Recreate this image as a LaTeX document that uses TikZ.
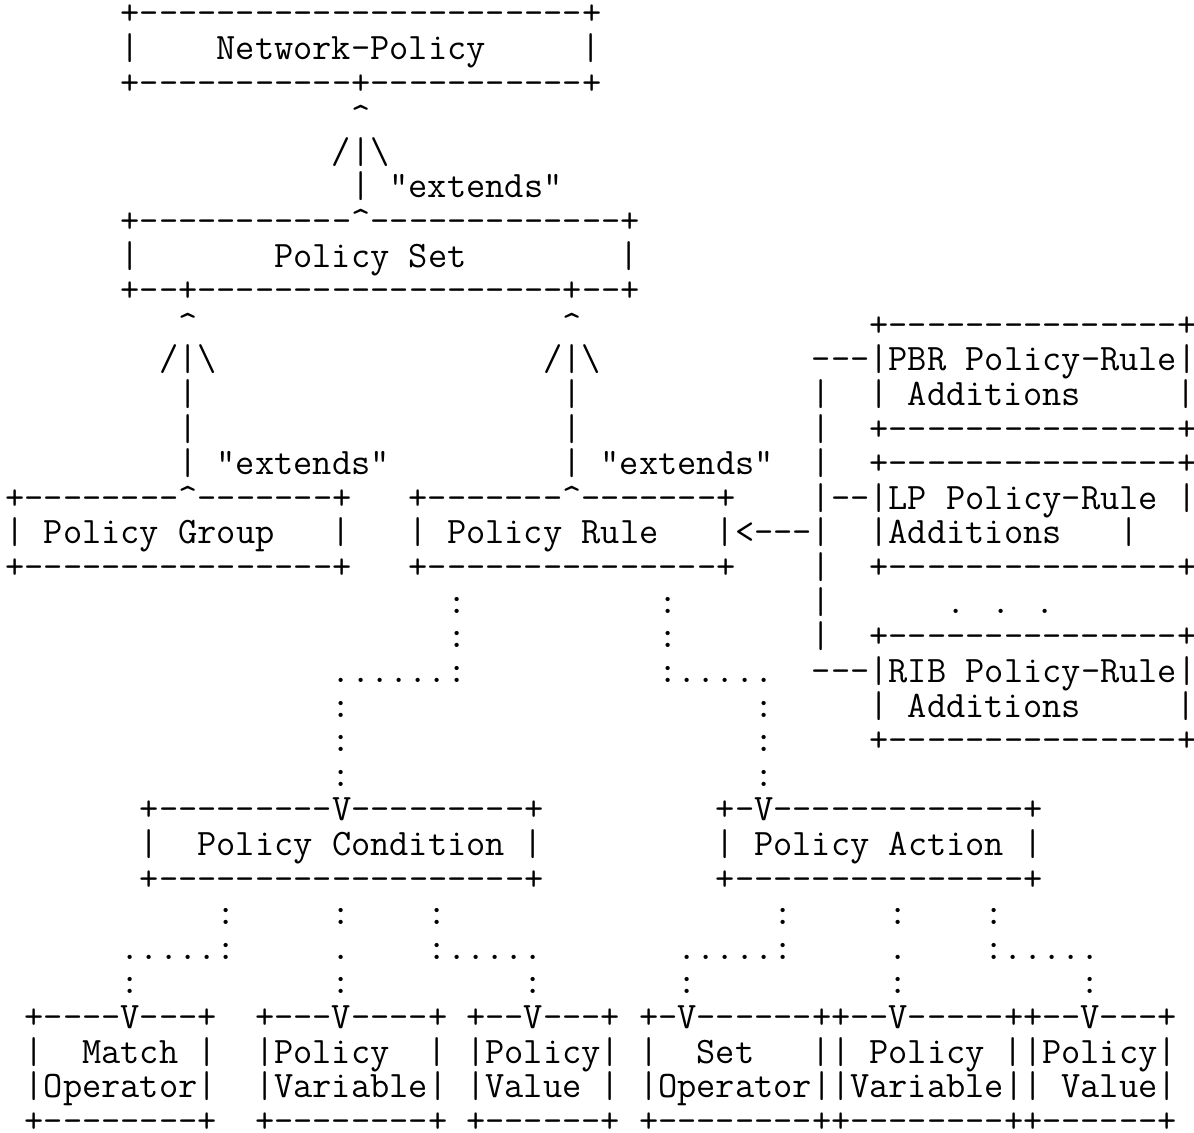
\documentclass[tikz,border=0pt]{standalone}
\usepackage{fontspec}
\tikzset{
  ascii/.style={anchor=base west, inner sep=0pt, outer sep=0pt,
    font=\ttfamily\fontsize{18.67pt}{20pt}\selectfont, text=black}
}
% one run of characters, placed on the character grid (column, row)
\newcommand\putseg[4]{\node[ascii] (#1) at ({5.4+19.2*(#2)},{25+34.6*((#3)-1)}) {#4};}
\newcommand\up{\textasciicircum}
\newcommand\bs{\textbackslash}
\begin{document}
\begin{tikzpicture}[x=0.5pt,y=-0.5pt]
\useasboundingbox (0,0) rectangle (1194,1133);
% Network-Policy
\putseg{nptop}{6}{1}{+-----------------------+}
\putseg{npl}{6}{2}{|}
\putseg{nptext}{11}{2}{Network-Policy}
\putseg{npr}{30}{2}{|}
\putseg{npbot}{6}{3}{+-----------+-----------+}
\putseg{ar1}{18}{4}{\up}
\putseg{ah1}{17}{5}{/|\bs}
\putseg{ex1}{18}{6}{| "extends"}
% Policy Set
\putseg{pstop}{6}{7}{+-----------\up-------------+}
\putseg{psl}{6}{8}{|}
\putseg{pstext}{14}{8}{Policy Set}
\putseg{psr}{32}{8}{|}
\putseg{psbot}{6}{9}{+--+-------------------+--+}
\putseg{ar2}{9}{10}{\up}
\putseg{ar3}{29}{10}{\up}
\putseg{pbrtop}{45}{10}{+---------------+}
\putseg{ah2}{8}{11}{/|\bs}
\putseg{ah3}{28}{11}{/|\bs}
\putseg{pbrlink}{42}{11}{---|PBR Policy-Rule|}
\putseg{v2a}{9}{12}{|}
\putseg{v3a}{29}{12}{|}
\putseg{bus1}{42}{12}{|}
\putseg{pbrl}{45}{12}{|}
\putseg{pbrtext}{47}{12}{Additions}
\putseg{pbrr}{61}{12}{|}
\putseg{v2b}{9}{13}{|}
\putseg{v3b}{29}{13}{|}
\putseg{bus2}{42}{13}{|}
\putseg{pbrbot}{45}{13}{+---------------+}
\putseg{ex2}{9}{14}{| "extends"}
\putseg{ex3}{29}{14}{| "extends"}
\putseg{bus3}{42}{14}{|}
\putseg{lptop}{45}{14}{+---------------+}
% Policy Group / Policy Rule / LP additions
\putseg{pgtop}{0}{15}{+--------\up-------+}
\putseg{prtop}{21}{15}{+-------\up-------+}
\putseg{lplink}{42}{15}{|--|LP Policy-Rule |}
\putseg{pgl}{0}{16}{|}
\putseg{pgtext}{2}{16}{Policy Group}
\putseg{pgr}{17}{16}{|}
\putseg{prl}{21}{16}{|}
\putseg{prtext}{23}{16}{Policy Rule}
\putseg{prlink}{37}{16}{|<---|}
\putseg{lpl}{45}{16}{|Additions}
\putseg{lpr}{58}{16}{|}
\putseg{pgbot}{0}{17}{+----------------+}
\putseg{prbot}{21}{17}{+---------------+}
\putseg{bus4}{42}{17}{|}
\putseg{lpbot}{45}{17}{+---------------+}
\putseg{d1a}{23}{18}{:}
\putseg{d2a}{34}{18}{:}
\putseg{bus5}{42}{18}{|}
\putseg{more}{49}{18}{. . .}
\putseg{d1b}{23}{19}{:}
\putseg{d2b}{34}{19}{:}
\putseg{bus6}{42}{19}{|}
\putseg{ribtop}{45}{19}{+---------------+}
\putseg{d1c}{17}{20}{......:}
\putseg{d2c}{34}{20}{:.....}
\putseg{riblink}{42}{20}{---|RIB Policy-Rule|}
\putseg{d1d}{17}{21}{:}
\putseg{d2d}{39}{21}{:}
\putseg{ribl}{45}{21}{|}
\putseg{ribtext}{47}{21}{Additions}
\putseg{ribr}{61}{21}{|}
\putseg{d1e}{17}{22}{:}
\putseg{d2e}{39}{22}{:}
\putseg{ribbot}{45}{22}{+---------------+}
\putseg{d1f}{17}{23}{:}
\putseg{d2f}{39}{23}{:}
% Policy Condition / Policy Action
\putseg{pctop}{7}{24}{+---------V---------+}
\putseg{patop}{37}{24}{+-V-------------+}
\putseg{pcl}{7}{25}{|}
\putseg{pctext}{10}{25}{Policy Condition}
\putseg{pcr}{27}{25}{|}
\putseg{pal}{37}{25}{|}
\putseg{patext}{39}{25}{Policy Action}
\putseg{par}{53}{25}{|}
\putseg{pcbot}{7}{26}{+-------------------+}
\putseg{pabot}{37}{26}{+---------------+}
\putseg{c1a}{11}{27}{:}
\putseg{c2a}{17}{27}{:}
\putseg{c3a}{22}{27}{:}
\putseg{a1a}{40}{27}{:}
\putseg{a2a}{46}{27}{:}
\putseg{a3a}{51}{27}{:}
\putseg{c1b}{6}{28}{.....:}
\putseg{c2b}{17}{28}{.}
\putseg{c3b}{22}{28}{:.....}
\putseg{a1b}{35}{28}{.....:}
\putseg{a2b}{46}{28}{.}
\putseg{a3b}{51}{28}{:.....}
\putseg{c1c}{6}{29}{:}
\putseg{c2c}{17}{29}{:}
\putseg{c3c}{27}{29}{:}
\putseg{a1c}{35}{29}{:}
\putseg{a2c}{46}{29}{:}
\putseg{a3c}{56}{29}{:}
% leaf boxes
\putseg{motop}{1}{30}{+----V---+}
\putseg{pvtop}{13}{30}{+---V----+}
\putseg{pvaltop}{24}{30}{+--V---+}
\putseg{sotop}{33}{30}{+-V------+}
\putseg{pvbtop}{43}{30}{+--V-----+}
\putseg{pvalbtop}{53}{30}{+--V---+}
\putseg{mol}{1}{31}{|}
\putseg{motext}{4}{31}{Match}
\putseg{mor}{10}{31}{|}
\putseg{pvl}{13}{31}{|Policy}
\putseg{pvr}{22}{31}{|}
\putseg{pvalname}{24}{31}{|Policy|}
\putseg{sol}{33}{31}{|}
\putseg{sotext}{36}{31}{Set}
\putseg{sor}{42}{31}{|}
\putseg{pvbl}{43}{31}{|}
\putseg{pvbtext}{45}{31}{Policy}
\putseg{pvbr}{52}{31}{|}
\putseg{pvalbname}{53}{31}{|Policy|}
\putseg{mosub}{1}{32}{|Operator|}
\putseg{pvsub}{13}{32}{|Variable|}
\putseg{pvalsub}{24}{32}{|Value}
\putseg{pvalr}{31}{32}{|}
\putseg{sosub}{33}{32}{|Operator|}
\putseg{pvbsub}{43}{32}{|Variable|}
\putseg{pvalbl}{53}{32}{|}
\putseg{pvalbsub}{55}{32}{Value|}
\putseg{mobot}{1}{33}{+--------+}
\putseg{pvbot}{13}{33}{+--------+}
\putseg{pvalbot}{24}{33}{+------+}
\putseg{sobot}{33}{33}{+--------+}
\putseg{pvbbot}{43}{33}{+--------+}
\putseg{pvalbbot}{53}{33}{+------+}
\end{tikzpicture}
\end{document}
